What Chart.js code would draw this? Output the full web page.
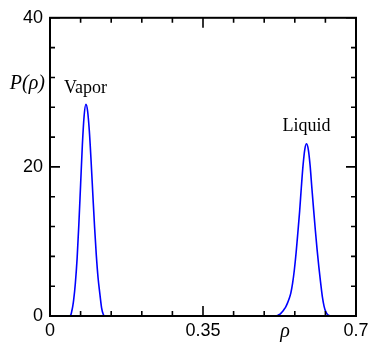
<!DOCTYPE html>
<html>
<head>
<meta charset="utf-8">
<script src="https://cdn.jsdelivr.net/npm/chart.js@4.4.1/dist/chart.umd.min.js"></script>
<style>
  body { margin: 0; background: white; }
  #wrap { width: 375px; height: 347px; }
</style>
</head>
<body>
<div id="wrap"><canvas id="myChart" width="375" height="347"></canvas></div>
<script>
// vapor peak
const vaporRho = [0.045, 0.048, 0.050, 0.052, 0.054, 0.058, 0.062, 0.066, 0.070, 0.074, 0.078, 0.0822, 0.086, 0.090, 0.094, 0.098, 0.102, 0.106, 0.110, 0.114, 0.118, 0.122, 0.125];
const vaporP = [0, 0.2, 0.7, 1.3, 2.1, 4.4, 7.7, 12.3, 17.6, 22.9, 26.8, 28.4, 27.5, 24.8, 20.8, 16.3, 11.9, 8.1, 5.1, 3.0, 1.1, 0.2, 0];

// liquid peak
const liquidRho = [0.517, 0.522, 0.527, 0.531, 0.535, 0.539, 0.543, 0.547, 0.551, 0.555, 0.559, 0.563, 0.567, 0.571, 0.575, 0.579, 0.583, 0.587, 0.591, 0.595, 0.599, 0.603, 0.607, 0.611, 0.615, 0.619, 0.623, 0.627, 0.631, 0.635, 0.640];
const liquidP = [0, 0.12, 0.3, 0.55, 0.85, 1.2, 1.7, 2.3, 3.1, 4.4, 6.2, 8.5, 11.2, 14.0, 17.3, 20.3, 22.4, 23.1, 22.3, 20.2, 17.2, 14.3, 11.5, 8.9, 6.6, 4.5, 2.6, 1.3, 0.55, 0.2, 0];

// ticks
const xMajor = [0, 0.35, 0.7];
const xMajorLabels = ['0', '0.35', '0.7'];
const yMajor = [0, 20, 40];
const yMajorLabels = ['0', '20', '40'];

// annotations
const peakNames = ['Vapor', 'Liquid'];
const peakLabelPos = [[0.081, 30.6], [0.587, 25.4]];

function toPoints(xs, ys) {
  return xs.map((x, i) => ({ x: x, y: ys[i] }));
}

function majorIndex(list, value) {
  return list.findIndex(v => Math.abs(v - value) < 1e-6);
}

const MINOR_LEN = 5;
const MAJOR_LEN = 10;

// frame + inward ticks on all four sides
const frameTicks = {
  id: 'frameTicks',
  afterDraw: (chart) => {
    const ctx = chart.ctx;
    const a = chart.chartArea;
    const xs = chart.scales.x;
    const ys = chart.scales.y;
    ctx.save();
    ctx.strokeStyle = '#000';
    ctx.lineWidth = 1.6;
    ctx.beginPath();
    xs.ticks.forEach(t => {
      const px = xs.getPixelForValue(t.value);
      const len = majorIndex(xMajor, t.value) >= 0 ? MAJOR_LEN : MINOR_LEN;
      ctx.moveTo(px, a.bottom);
      ctx.lineTo(px, a.bottom - len);
      ctx.moveTo(px, a.top);
      ctx.lineTo(px, a.top + len);
    });
    ys.ticks.forEach(t => {
      const py = ys.getPixelForValue(t.value);
      const len = majorIndex(yMajor, t.value) >= 0 ? MAJOR_LEN : MINOR_LEN;
      ctx.moveTo(a.left, py);
      ctx.lineTo(a.left + len, py);
      ctx.moveTo(a.right, py);
      ctx.lineTo(a.right - len, py);
    });
    ctx.stroke();
    ctx.lineWidth = 2;
    ctx.strokeRect(a.left, a.top, a.right - a.left, a.bottom - a.top);

    // peak labels
    ctx.fillStyle = '#000';
    ctx.textAlign = 'center';
    ctx.textBaseline = 'middle';
    ctx.font = '18px "Liberation Serif"';
    peakNames.forEach((name, i) => {
      ctx.fillText(name, xs.getPixelForValue(peakLabelPos[i][0]), ys.getPixelForValue(peakLabelPos[i][1]));
    });

    // axis titles
    ctx.font = 'italic 20px "Liberation Serif"';
    ctx.textAlign = 'right';
    ctx.fillText('P(\u03c1)', a.left - 5, ys.getPixelForValue(31.2));
    ctx.textAlign = 'center';
    ctx.fillText('\u03c1', xs.getPixelForValue(0.5376), a.bottom + 16);
    ctx.restore();
  }
};

const lineStyle = {
  borderColor: '#0000ff',
  borderWidth: 1.6,
  pointRadius: 0,
  fill: false,
  cubicInterpolationMode: 'monotone'
};

const config = {
  type: 'line',
  data: {
    datasets: [
      Object.assign({ label: 'Vapor', data: toPoints(vaporRho, vaporP) }, lineStyle),
      Object.assign({ label: 'Liquid', data: toPoints(liquidRho, liquidP) }, lineStyle)
    ]
  },
  options: {
    responsive: false,
    animation: false,
    layout: { padding: { top: 15, right: 19, left: 0, bottom: 0 } },
    plugins: {
      legend: { display: false },
      tooltip: { enabled: false }
    },
    scales: {
      x: {
        type: 'linear',
        min: 0,
        max: 0.7,
        grid: { display: false, drawTicks: false },
        border: { display: false },
        afterFit: (scale) => { scale.height = 31; },
        ticks: {
          stepSize: 0.07,
          autoSkip: false,
          maxRotation: 0,
          padding: 4,
          color: '#000',
          font: { family: 'Liberation Sans', size: 18 },
          callback: (value) => {
            const i = majorIndex(xMajor, value);
            return i >= 0 ? xMajorLabels[i] : '';
          }
        }
      },
      y: {
        min: 0,
        max: 40,
        grid: { display: false, drawTicks: false },
        border: { display: false },
        afterFit: (scale) => { scale.width = 50; },
        ticks: {
          stepSize: 4,
          autoSkip: false,
          padding: 7,
          color: '#000',
          font: { family: 'Liberation Sans', size: 18 },
          callback: (value) => {
            const i = majorIndex(yMajor, value);
            return i >= 0 ? yMajorLabels[i] : '';
          }
        }
      }
    }
  },
  plugins: [frameTicks]
};

const myChart = new Chart(document.getElementById('myChart'), config);
</script>
</body>
</html>
